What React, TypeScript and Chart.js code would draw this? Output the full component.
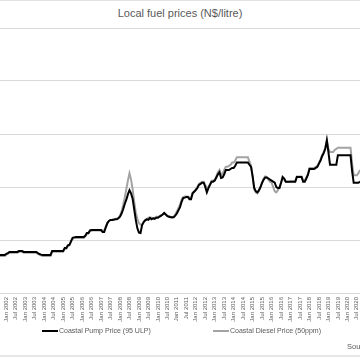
import React, { useEffect, useRef } from "react";
import { Chart, registerables } from "chart.js";

Chart.register(...registerables);

// ---------- data ----------
const MONTH_NAMES = ["Jan", "Feb", "Mar", "Apr", "May", "Jun", "Jul", "Aug", "Sep", "Oct", "Nov", "Dec"];
const START_YEAR = 2001;
const START_MONTH = 8; // September 2001 (0-based month)

// Coastal Pump Price (95 ULP), N$/litre, monthly Sep 2001 – Sep 2020
const pumpPrice = [
  3.58, 3.58, 3.58, 3.58,
  3.70, 3.77, 3.87, 3.87, 3.87, 3.87, 3.87, 3.87, 3.96, 3.96, 3.96, 3.87,
  3.87, 3.87, 3.87, 3.87, 3.87, 3.87, 3.87, 3.87, 3.77, 3.68, 3.62, 3.58,
  3.58, 3.58, 3.58, 3.58, 3.58, 3.96, 3.96, 3.96, 3.96, 3.96, 3.96, 3.96,
  3.96, 4.25, 4.25, 4.50, 4.55, 4.90, 5.20, 5.25, 5.28, 5.28, 5.28, 5.28,
  5.28, 5.28, 5.40, 5.66, 5.66, 5.90, 5.94, 5.94, 5.94, 5.94, 5.94, 5.94,
  5.94, 5.75, 5.75, 6.20, 6.60, 6.80, 6.89, 6.89, 6.90, 6.95, 6.95, 7.05,
  7.20, 7.50, 7.90, 8.40, 8.80, 9.30, 9.70, 9.40, 8.90, 7.90, 6.90, 6.10,
  5.70, 5.66, 6.40, 6.70, 6.85, 6.95, 6.90, 7.10, 6.95, 7.05, 7.00, 7.10,
  7.10, 7.20, 7.30, 7.40, 7.55, 7.40, 7.25, 7.20, 7.15, 7.15, 7.15, 7.30,
  7.50, 7.80, 8.10, 8.60, 8.96, 9.00, 9.06, 9.06, 8.85, 8.85, 9.40, 9.55,
  9.70, 9.90, 10.20, 10.30, 10.40, 10.40, 10.00, 9.50, 9.90, 10.20, 10.50, 10.50,
  10.60, 10.90, 11.20, 11.40, 10.85, 10.90, 11.20, 11.60, 11.60, 11.60, 11.70, 11.80,
  11.80, 12.00, 12.30, 12.30, 12.30, 12.30, 12.30, 12.30, 12.30, 12.30, 12.10, 11.90,
  11.00, 9.90, 9.60, 9.50, 9.70, 10.00, 10.40, 10.70, 10.90, 10.90, 10.80, 10.70,
  10.60, 10.50, 10.40, 10.00, 9.90, 9.90, 10.40, 10.95, 10.80, 10.50, 10.50, 10.50,
  10.50, 10.50, 10.50, 10.50, 10.95, 10.95, 10.95, 10.95, 10.50, 10.50, 10.80, 11.13,
  11.70, 11.70, 11.70, 11.70, 11.80, 11.90, 12.20, 12.50, 12.90, 13.20, 13.60, 14.40,
  13.30, 12.10, 12.10, 12.10, 12.10, 12.10, 13.00, 13.00, 13.00, 13.00, 13.00, 13.00,
  13.00, 13.00, 13.00, 11.50, 10.40, 10.40, 10.40, 10.40, 10.50,
];

// Coastal Diesel Price (50ppm), N$/litre, monthly Sep 2001 – Sep 2020
const dieselPrice = [
  3.50, 3.50, 3.50, 3.50,
  3.62, 3.70, 3.80, 3.80, 3.80, 3.80, 3.80, 3.80, 3.90, 3.90, 3.90, 3.80,
  3.80, 3.80, 3.80, 3.80, 3.80, 3.80, 3.80, 3.80, 3.70, 3.62, 3.55, 3.50,
  3.50, 3.50, 3.50, 3.50, 3.50, 3.88, 3.88, 3.88, 3.88, 3.88, 3.88, 3.88,
  3.88, 4.18, 4.18, 4.42, 4.50, 4.85, 5.12, 5.18, 5.20, 5.20, 5.20, 5.20,
  5.20, 5.20, 5.35, 5.60, 5.60, 5.85, 5.90, 5.90, 5.90, 5.90, 5.90, 5.90,
  5.92, 5.90, 5.88, 6.25, 6.60, 6.82, 6.90, 6.92, 6.95, 7.00, 7.00, 7.10,
  7.30, 7.70, 8.30, 9.00, 9.80, 10.60, 11.30, 10.70, 9.80, 8.60, 7.60, 7.00,
  6.60, 6.45, 6.45, 6.70, 6.90, 7.00, 7.10, 7.00, 7.10, 7.00, 7.10, 7.20,
  7.20, 7.20, 7.30, 7.40, 7.50, 7.40, 7.30, 7.25, 7.20, 7.10, 7.20, 7.40,
  7.70, 8.00, 8.30, 8.80, 9.05, 9.10, 9.10, 9.10, 9.00, 9.00, 9.45, 9.60,
  9.80, 10.00, 10.30, 10.40, 10.50, 10.50, 10.20, 9.90, 10.00, 10.30, 10.60, 10.60,
  10.70, 11.00, 11.40, 11.60, 11.10, 11.30, 11.60, 11.90, 11.90, 12.00, 12.10, 12.30,
  12.30, 12.50, 12.80, 12.80, 12.80, 12.80, 12.80, 12.80, 12.80, 12.80, 12.40, 12.00,
  11.00, 9.80, 9.50, 9.40, 9.60, 10.00, 10.40, 10.80, 11.00, 10.90, 10.70, 10.50,
  10.40, 10.00, 9.60, 9.50, 9.70, 10.00, 10.40, 10.80, 10.70, 10.50, 10.50, 10.50,
  10.55, 10.55, 10.55, 10.55, 11.00, 11.00, 11.00, 11.00, 10.60, 10.60, 10.90, 11.20,
  11.80, 11.80, 11.80, 11.80, 11.90, 12.00, 12.30, 12.60, 13.00, 13.30, 13.70, 14.40,
  13.60, 13.30, 13.30, 13.30, 13.50, 13.60, 13.70, 13.70, 13.70, 13.70, 13.70, 13.70,
  13.70, 13.70, 13.70, 12.20, 11.10, 11.10, 11.10, 11.30, 11.60,
];

const categories = pumpPrice.map((_, i) => {
  const t = START_MONTH + i;
  return `${MONTH_NAMES[t % 12]} ${START_YEAR + Math.floor(t / 12)}`;
});
const shownTickMonths = ["Jan", "Jul"];
const seriesNames = ["Coastal Pump Price (95 ULP)", "Coastal Diesel Price (50ppm)"];
const seriesColors = ["#000000", "#a3a3a3"];
const titleText = "Local fuel prices (N$/litre)";
const sourceText = "Source:";
const yMin = 0;
const yMax = 25;
const yStep = 5;

const FONT = "'Liberation Sans', Arial, sans-serif";

export default function App() {
  const canvasRef = useRef<HTMLCanvasElement | null>(null);

  useEffect(() => {
    if (!canvasRef.current) return;
    const chart = new Chart(canvasRef.current, {
      type: "line",
      data: {
        labels: categories,
        datasets: [
          {
            label: seriesNames[0],
            data: pumpPrice,
            borderColor: seriesColors[0],
            backgroundColor: seriesColors[0],
            borderWidth: 2,
            pointRadius: 0,
            tension: 0,
          },
          {
            label: seriesNames[1],
            data: dieselPrice,
            borderColor: seriesColors[1],
            backgroundColor: seriesColors[1],
            borderWidth: 2,
            pointRadius: 0,
            tension: 0,
          },
        ],
      },
      options: {
        animation: false,
        responsive: false,
        maintainAspectRatio: false,
        layout: { padding: { left: 40, right: 40, top: 28, bottom: 37 } },
        plugins: {
          legend: { display: false },
          title: { display: false },
          tooltip: { enabled: false },
        },
        scales: {
          x: {
            type: "category",
            grid: { display: false, drawTicks: false },
            border: { display: false },
            ticks: {
              autoSkip: false,
              minRotation: 90,
              maxRotation: 90,
              padding: 4,
              color: "#595959",
              font: { family: FONT, size: 6 },
              callback: (_v: any, i: number) => {
                const l = categories[i];
                return shownTickMonths.includes(l.slice(0, 3)) ? l : null;
              },
            },
            afterFit: (s: any) => {
              s.height = 30;
            },
          },
          y: {
            min: yMin,
            max: yMax,
            ticks: { display: false, stepSize: yStep },
            grid: { color: "#d9d9d9", lineWidth: 1, drawTicks: false },
            border: { display: false },
            afterFit: (s: any) => {
              s.width = 0;
            },
          },
        },
      },
    } as any);
    return () => chart.destroy();
  }, []);

  return (
    <div
      style={{
        position: "fixed",
        left: 0,
        top: 0,
        width: 360,
        height: 360,
        overflow: "hidden",
        background: "#ffffff",
        fontFamily: FONT,
      }}
    >
      <div style={{ position: "absolute", left: 0, top: 0, width: 360, height: 1, background: "#e2e2e2" }} />
      <div
        style={{
          position: "absolute",
          left: 0,
          top: 0,
          width: 360,
          height: 26,
          lineHeight: "26px",
          textAlign: "center",
          fontSize: 11,
          color: "#595959",
        }}
      >
        {titleText}
      </div>
      <canvas
        ref={canvasRef}
        width={440}
        height={360}
        style={{ position: "absolute", left: -40, top: 0, width: 440, height: 360 }}
      />
      {/* legend */}
      <div style={{ position: "absolute", left: 42, top: 329.5, width: 16, height: 2, background: seriesColors[0] }} />
      <div
        style={{
          position: "absolute",
          left: 59,
          top: 325,
          height: 11,
          lineHeight: "11px",
          fontSize: 7,
          color: "#595959",
          whiteSpace: "nowrap",
        }}
      >
        {seriesNames[0]}
      </div>
      <div style={{ position: "absolute", left: 213, top: 330, width: 16, height: 1.5, background: seriesColors[1] }} />
      <div
        style={{
          position: "absolute",
          left: 230,
          top: 325,
          height: 11,
          lineHeight: "11px",
          fontSize: 7,
          color: "#595959",
          whiteSpace: "nowrap",
        }}
      >
        {seriesNames[1]}
      </div>
      <div
        style={{
          position: "absolute",
          left: 347,
          top: 341,
          height: 11,
          lineHeight: "11px",
          fontSize: 7.5,
          color: "#595959",
          whiteSpace: "nowrap",
        }}
      >
        {sourceText}
      </div>
      <div style={{ position: "absolute", left: 0, top: 355, width: 360, height: 2, background: "#e6e6e6" }} />
    </div>
  );
}
